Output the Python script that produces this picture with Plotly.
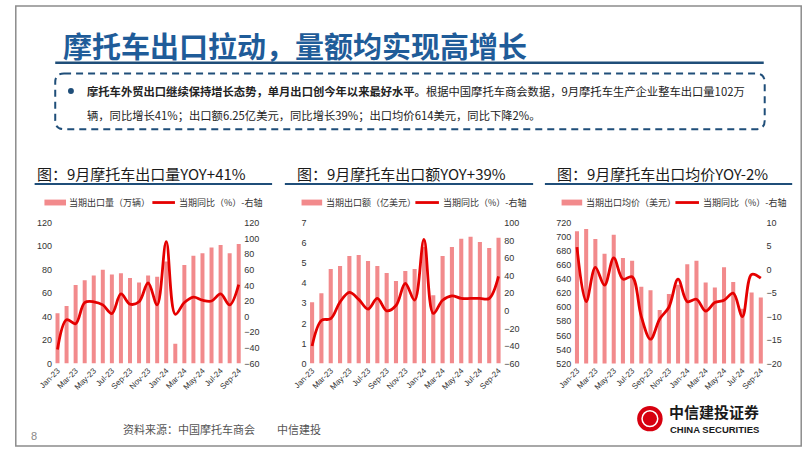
import plotly.graph_objects as go

W, H = 802, 452

months = ["Jan-23", "Feb-23", "Mar-23", "Apr-23", "May-23", "Jun-23", "Jul-23", "Aug-23",
          "Sep-23", "Oct-23", "Nov-23", "Dec-23", "Jan-24", "Feb-24", "Mar-24", "Apr-24",
          "May-24", "Jun-24", "Jul-24", "Aug-24", "Sep-24"]
tick_labels = months[::2]

# Chart 1: export volume (10k units) and YoY (%)
volume = [43, 49, 67, 71, 75, 80, 76, 77, 73, 69, 75, 74, 87, 17, 84, 92, 94, 99, 101, 94, 102]
volume_yoy = [-42, -4, -9, 18, 19, 15, 4, 29, 16, 19, 43, 15, 96, 3, 18, 25, 21, 20, 29, 15, 41]

# Chart 2: export value (100m USD) and YoY (%)
value = [3.05, 3.5, 4.7, 4.85, 5.35, 5.4, 5.1, 4.85, 4.5, 4.1, 4.6, 4.7, 5.8, 3.4, 5.35, 5.8,
         6.2, 6.3, 6.05, 5.75, 6.25]
value_yoy = [-40, -11, -9, 10, 21, 13, 2, 14, 0, 6, 31, 12, 81, -3, 12, 17, 14, 14, 14, 14, 39]

# Chart 3: average export price (USD) and YoY (%)
price = [708, 711, 697, 676, 703, 670, 666, 629, 624, 596, 619, 632, 661, 666, 635, 628,
         657, 636, 598, 621, 614]
price_yoy = [4.8, -6.8, 0.5, -3.3, 2.5, -2.0, -1.5, -10.0, -14.8, -10.5, -8.0, -2.0, -6.8,
             -6.3, -8.8, -7.0, -6.5, -5.0, -10.0, -1.0, -1.8]

titles = ["图：9月摩托车出口量YOY+41%", "图：9月摩托车出口额YOY+39%", "图：9月摩托车出口均价YOY-2%"]
bar_names = ["当期出口量（万辆）", "当期出口额（亿美元）", "当期出口均价（美元）"]
line_name = "当期同比（%）-右轴"

BAR_C = "#F28A8C"
LINE_C = "#E50000"
BLUE = "#1F4E79"
TITLE_BLUE = "#1F5C99"
CJK = "Noto Sans CJK SC"
LAT = "Liberation Sans"


def px(x):
    return x / W


def py(y):
    return 1 - y / H


fig = go.Figure()

charts = [
    dict(bars=volume, yoy=volume_yoy, xd=(38.7, 232.6), lrange=[0, 120], ldt=20,
         rrange=[-60, 120], rdt=20),
    dict(bars=value, yoy=value_yoy, xd=(298, 497.5), lrange=[0, 7], ldt=1,
         rrange=[-60, 100], rdt=20),
    dict(bars=price, yoy=price_yoy, xd=(568, 764.7), lrange=[520, 720], ldt=20,
         rrange=[-20, 10], rdt=5),
]

ydom = [py(366.7), py(222.7)]
tickfont = dict(family=LAT, size=9, color="#333333")
layout_axes = {}
for i, c in enumerate(charts):
    xn = "x" if i == 0 else f"x{i+1}"
    yl = 2 * i + 1
    yr = 2 * i + 2
    yln = "y" if yl == 1 else f"y{yl}"
    yrn = f"y{yr}"
    fig.add_trace(go.Bar(x=months, y=c["bars"], xaxis=xn, yaxis=yln, marker_color=BAR_C,
                         marker_line_width=0, showlegend=False, name=bar_names[i]))
    fig.add_trace(go.Scatter(x=months, y=c["yoy"], xaxis=xn, yaxis=yrn, mode="lines",
                             line=dict(color=LINE_C, width=2.8, shape="spline", smoothing=1.0),
                             showlegend=False, name=line_name))
    xkey = "xaxis" if i == 0 else f"xaxis{i+1}"
    layout_axes[xkey] = dict(domain=[px(c["xd"][0]), px(c["xd"][1])], anchor=yln,
                             type="category", categoryorder="array", categoryarray=months,
                             range=[-0.5, 20.5], tickmode="array", tickvals=tick_labels,
                             ticktext=tick_labels, tickangle=-45, showgrid=False,
                             showline=False, ticks="", zeroline=False,
                             tickfont=dict(family=LAT, size=8, color="#333333"))
    ylkey = "yaxis" if yl == 1 else f"yaxis{yl}"
    layout_axes[ylkey] = dict(domain=ydom, anchor=xn, range=c["lrange"], dtick=c["ldt"],
                              tick0=c["lrange"][0], showgrid=False, zeroline=False,
                              showline=False, ticks="", tickfont=tickfont)
    layout_axes[f"yaxis{yr}"] = dict(domain=ydom, anchor=xn, overlaying=yln, side="right",
                                     range=c["rrange"], dtick=c["rdt"], tick0=c["rrange"][0],
                                     showgrid=False, zeroline=False, showline=False,
                                     ticks="", tickfont=tickfont)

fig.update_layout(**layout_axes)

shapes = []
annotations = []

# slide border
shapes.append(dict(type="rect", xref="paper", yref="paper", x0=0.001, y0=0.002, x1=0.999,
                   y1=0.998, line=dict(color="#8C8C8C", width=1.5)))

# main title + underline
annotations.append(dict(text="<b>摩托车出口拉动，量额均实现高增长</b>", xref="paper", yref="paper",
                        x=px(47), y=py(41), xanchor="left", yanchor="middle", showarrow=False,
                        font=dict(family=CJK, size=29, color=TITLE_BLUE)))
shapes.append(dict(type="line", xref="paper", yref="paper", x0=px(41), x1=px(763),
                   y0=py(59), y1=py(59), line=dict(color=BLUE, width=2.5)))

# dashed rounded box
x0b, x1b, y0b, y1b, r = 41, 764, 70, 127, 9
path = (f"M {px(x0b + r)},{py(y0b)} L {px(x1b - r)},{py(y0b)} "
        f"Q {px(x1b)},{py(y0b)} {px(x1b)},{py(y0b + r)} L {px(x1b)},{py(y1b - r)} "
        f"Q {px(x1b)},{py(y1b)} {px(x1b - r)},{py(y1b)} L {px(x0b + r)},{py(y1b)} "
        f"Q {px(x0b)},{py(y1b)} {px(x0b)},{py(y1b - r)} L {px(x0b)},{py(y0b + r)} "
        f"Q {px(x0b)},{py(y0b)} {px(x0b + r)},{py(y0b)} Z")
shapes.append(dict(type="path", xref="paper", yref="paper", path=path,
                   line=dict(color=BLUE, width=2, dash="7px,5px")))
shapes.append(dict(type="circle", xref="paper", yref="paper", x0=px(54), x1=px(60),
                   y0=py(85), y1=py(91), fillcolor=BLUE, line=dict(width=0)))
line1 = ("<b>摩托车外贸出口继续保持增长态势，单月出口创今年以来最好水平。</b>"
         "根据中国摩托车商会数据，9月摩托车生产企业整车出口量102万")
line2 = "辆，同比增长41%；出口额6.25亿美元，同比增长39%；出口均价614美元，同比下降2%。"
annotations.append(dict(text=line1, xref="paper", yref="paper", x=px(71), y=py(88),
                        xanchor="left", yanchor="middle", showarrow=False,
                        font=dict(family=CJK, size=11.3, color="#222222")))
annotations.append(dict(text=line2, xref="paper", yref="paper", x=px(71), y=py(112),
                        xanchor="left", yanchor="middle", showarrow=False,
                        font=dict(family=CJK, size=11.3, color="#222222")))

# chart titles + underlines
title_x = [20, 285, 550]
ul = [(20, 262), (275, 528), (540, 792)]
for i in range(3):
    annotations.append(dict(text=titles[i], xref="paper", yref="paper", x=px(title_x[i]),
                            y=py(172), xanchor="left", yanchor="middle", showarrow=False,
                            font=dict(family=CJK, size=15, color="#1A1A1A")))
    shapes.append(dict(type="line", xref="paper", yref="paper", x0=px(ul[i][0]),
                       x1=px(ul[i][1]), y0=py(183), y1=py(183),
                       line=dict(color=BLUE, width=2)))

# legends
leg = [(30, 52, 53, 140, 163, 165), (292, 313, 315, 408, 432, 434),
       (557, 578, 580, 673, 697, 699)]
ly = 202
for i, (b0, b1, t1, l0, l1, t2) in enumerate(leg):
    shapes.append(dict(type="rect", xref="paper", yref="paper", x0=px(b0), x1=px(b1),
                       y0=py(ly + 3), y1=py(ly - 3), fillcolor=BAR_C, line=dict(width=0)))
    annotations.append(dict(text=bar_names[i], xref="paper", yref="paper", x=px(t1),
                            y=py(ly), xanchor="left", yanchor="middle", showarrow=False,
                            font=dict(family=CJK, size=9, color="#333333")))
    shapes.append(dict(type="line", xref="paper", yref="paper", x0=px(l0), x1=px(l1),
                       y0=py(ly), y1=py(ly), line=dict(color=LINE_C, width=2.8)))
    annotations.append(dict(text=line_name, xref="paper", yref="paper", x=px(t2),
                            y=py(ly), xanchor="left", yanchor="middle", showarrow=False,
                            font=dict(family=CJK, size=9, color="#333333")))

# footer
annotations.append(dict(text="资料来源：中国摩托车商会　　中信建投", xref="paper", yref="paper",
                        x=px(108), y=py(434), xanchor="left", yanchor="middle",
                        showarrow=False, font=dict(family=CJK, size=11, color="#555555")))
annotations.append(dict(text="8", xref="paper", yref="paper", x=px(14), y=py(441),
                        xanchor="left", yanchor="middle", showarrow=False,
                        font=dict(family=LAT, size=11, color="#888888")))
# logo
shapes.append(dict(type="circle", xref="paper", yref="paper", x0=px(634), x1=px(660),
                   y0=py(410), y1=py(436), fillcolor="#D7000F", line=dict(width=0)))
shapes.append(dict(type="circle", xref="paper", yref="paper", x0=px(639), x1=px(655),
                   y0=py(415), y1=py(431), fillcolor="rgba(0,0,0,0)",
                   line=dict(color="white", width=1.5)))
annotations.append(dict(text="<b>中信建投证券</b>", xref="paper", yref="paper", x=px(664),
                        y=py(416), xanchor="left", yanchor="middle", showarrow=False,
                        font=dict(family=CJK, size=15, color="#1A1A1A")))
annotations.append(dict(text="<b>CHINA SECURITIES</b>", xref="paper", yref="paper",
                        x=px(665), y=py(434), xanchor="left", yanchor="middle",
                        showarrow=False, font=dict(family=LAT, size=9.5, color="#1A1A1A")))

fig.update_layout(width=W, height=H, margin=dict(l=0, r=0, t=0, b=0),
                  paper_bgcolor="white", plot_bgcolor="rgba(0,0,0,0)",
                  bargap=0.56, shapes=shapes, annotations=annotations, showlegend=False)

fig.write_html("out.html", config={"displayModeBar": False, "staticPlot": True})

# remove default page margin so the figure sits at the window origin
with open("out.html", "r", encoding="utf-8") as f:
    html = f.read()
html = html.replace("<head>", "<head><style>html,body{margin:0;padding:0;overflow:hidden;}</style>", 1)
with open("out.html", "w", encoding="utf-8") as f:
    f.write(html)
